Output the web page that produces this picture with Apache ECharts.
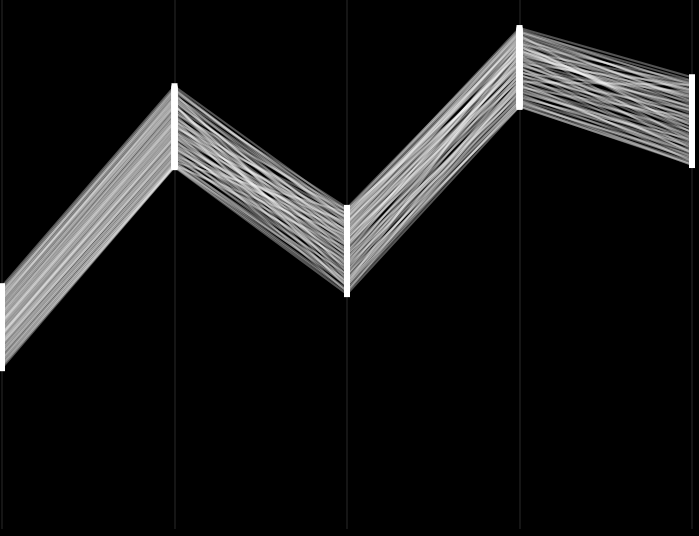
<!DOCTYPE html>
<html>
<head>
<meta charset="utf-8">
<style>
html,body{margin:0;padding:0;background:#000;}
#chart{width:699px;height:536px;}
</style>
<script src="https://cdn.jsdelivr.net/npm/echarts@6/dist/echarts.min.js"></script>
</head>
<body>
<div id="chart"></div>
<script>
var categories = ['A', 'B', 'C', 'D', 'E'];

var dimA = [45.9,45.2,44.6,44.1,43.5,43.0,42.7,42.2,41.8,41.3,40.9,40.5,40.1,39.8,39.4,39.0,38.7,38.3,38.0,37.6,37.3,37.0,36.6,36.3,36.0,35.6,35.3,35.0,34.6,34.3,33.9,33.6,33.2,32.8,32.4,32.0,31.5,31.0,30.4,44.9,43.8,36.8,33.0,40.7,35.8,42.5,38.5,31.8,
  45.5,44.3,43.2,41.5,40.3,39.2,37.8,36.5,34.8,33.4,32.2,30.8,42.0,39.6,37.1,35.1,44.0,38.9,34.0,31.2,
  44.8,41.0,39.3,36.9,43.4,35.4];
var dimB = [83.7,82.9,83.1,81.8,81.2,80.6,80.9,79.7,79.3,78.8,79.1,78.0,77.6,77.2,76.9,76.3,76.0,75.4,75.7,74.8,74.5,73.9,74.1,73.3,72.9,72.6,72.2,71.9,71.5,71.0,70.7,70.3,69.9,69.6,69.2,68.9,68.6,68.4,68.5,82.4,80.2,74.3,70.1,78.4,73.0,80.0,75.9,69.0,
  83.3,82.1,81.5,79.9,77.9,76.6,75.2,73.6,72.0,70.5,69.4,68.7,80.4,77.4,74.0,71.7,81.0,76.7,71.2,68.8,
  82.6,78.6,77.0,75.0,81.6,72.4];
var dimC = [60.1,59.2,57.8,60.7,58.6,56.9,55.4,59.5,57.3,54.6,56.2,53.9,58.1,55.8,52.7,54.2,57.0,51.9,53.4,55.1,50.8,52.5,49.9,53.8,51.2,48.7,50.3,52.0,47.9,49.4,46.8,48.2,50.6,46.1,47.5,45.3,46.6,44.4,45.0,48.6,46.3,58.9,56.5,49.1,55.9,51.5,60.3,53.1,
  58.3,56.0,54.0,52.2,50.0,48.0,46.0,44.8,54.7,58.0,59.8,55.5,47.2,45.7,57.5,53.6,55.0,51.0,49.7,47.0,
  59.6,60.4,59.0,57.7,58.8,56.6];
var dimD = [94.7,93.8,92.6,94.1,91.7,93.0,90.8,92.2,89.9,91.1,88.7,90.3,89.1,87.6,88.4,86.9,87.9,85.8,86.5,84.9,85.3,84.2,83.7,85.0,83.1,82.6,84.0,82.0,81.7,83.4,81.2,80.8,82.3,80.4,79.8,81.0,80.1,79.9,80.6,89.5,91.4,93.4,86.2,84.5,90.0,87.2,88.0,91.9,
  93.2,92.9,90.5,91.3,88.9,87.3,86.0,84.7,87.7,89.6,90.6,85.6,83.9,82.8,91.6,88.2,86.4,89.4,81.5,83.5,
  94.4,93.6,92.4,94.0,92.0,90.2];
var dimE = [85.4,84.1,83.5,82.2,84.6,81.0,82.8,80.3,83.1,79.4,81.6,78.5,80.7,77.9,79.8,78.1,76.6,77.3,75.8,76.9,74.6,75.2,73.9,74.3,72.8,73.5,72.1,71.6,72.4,70.9,71.3,70.2,69.7,70.6,69.1,68.8,69.4,68.9,70.0,71.8,73.2,74.9,82.5,84.0,78.9,71.0,83.9,75.5,
  83.0,80.8,79.0,77.0,75.0,73.0,71.2,69.5,80.0,81.8,77.6,79.2,70.4,72.6,76.2,74.0,76.4,82.0,73.7,77.8,
  83.8,82.6,81.4,84.8,79.6,84.3];

var series = [];
for (var i = 0; i < dimA.length; i++) {
  series.push({
    type: 'line',
    data: [dimA[i], dimB[i], dimC[i], dimD[i], dimE[i]],
    symbol: 'rect',
    symbolSize: 6,
    showSymbol: true,
    showAllSymbol: true,
    itemStyle: { color: '#ffffff', opacity: 1 },
    lineStyle: { color: 'rgba(255,255,255,0.33)', width: 2 },
    silent: true,
    animation: false
  });
}

var chart = echarts.init(document.getElementById('chart'), null, { renderer: 'canvas' });
chart.setOption({
  backgroundColor: '#000000',
  animation: false,
  grid: { left: 2, right: 7, top: 0, bottom: 7 },
  xAxis: {
    type: 'category',
    data: categories,
    boundaryGap: false,
    axisLine: { show: false },
    axisTick: { show: false },
    axisLabel: { show: false },
    splitLine: { show: true, lineStyle: { color: '#151515', width: 2 } }
  },
  yAxis: {
    type: 'value',
    min: 0,
    max: 100,
    axisLine: { show: false },
    axisTick: { show: false },
    axisLabel: { show: false },
    splitLine: { show: false }
  },
  series: series
});
</script>
</body>
</html>
